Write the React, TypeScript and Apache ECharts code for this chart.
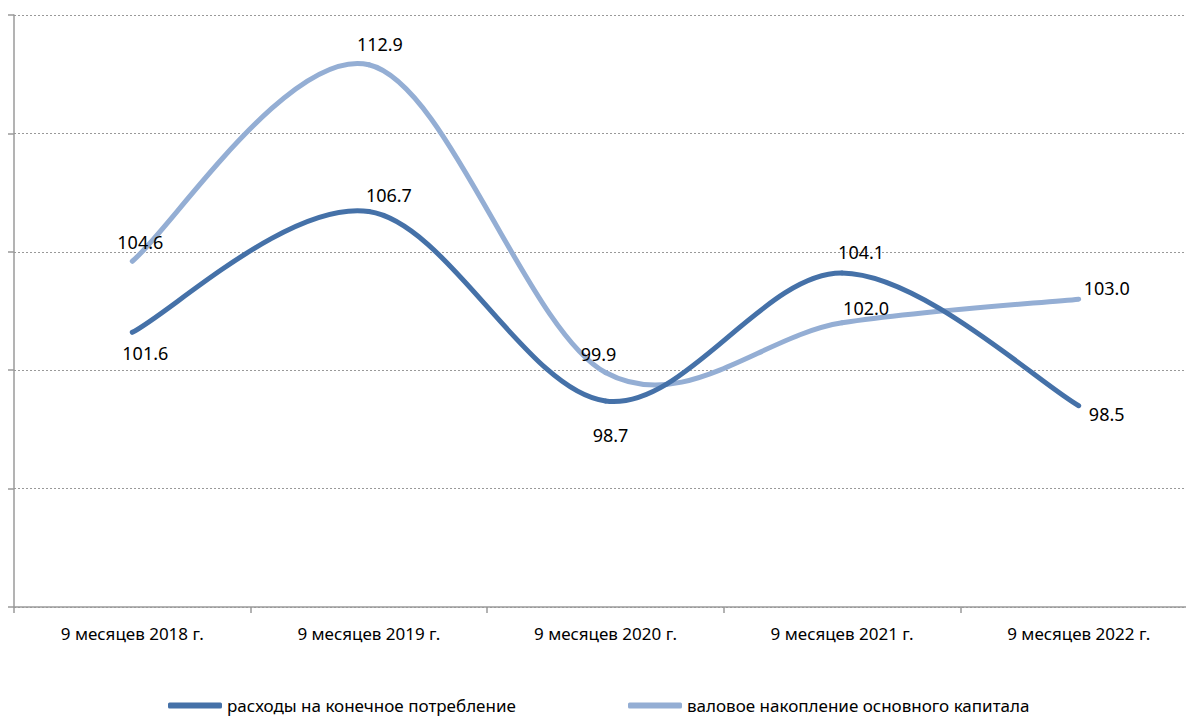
import React, { useEffect, useRef } from "react";
import * as echarts from "echarts";

const categories = [
  "9 месяцев 2018 г.",
  "9 месяцев 2019 г.",
  "9 месяцев 2020 г.",
  "9 месяцев 2021 г.",
  "9 месяцев 2022 г.",
];
const seriesNames = ["расходы на конечное потребление", "валовое накопление основного капитала"];
const consumption = [101.6, 106.7, 98.7, 104.1, 98.5];
const investment = [104.6, 112.9, 99.9, 102.0, 103.0];
// label offsets (dx, dy) from each point
const consumptionOffsets = [[13, 21], [20, -17], [5, 34], [19, -21], [28, 8]];
const investmentOffsets = [[8, -19], [11, -21], [-7, -19], [24, -15], [28, -11]];

const FONT = "Noto Sans";
const DARK = "#4571A8";
const LIGHT = "#94AED4";

function makeRender(vals: number[], offs: number[][], color: string) {
  return (params: any, api: any) => {
    const i = params.dataIndex;
    const pts = vals.map((v, k) => api.coord([k, v]));
    const n = pts.length;
    const children: any[] = [];
    if (i < n - 1) {
      const p0 = pts[Math.max(i - 1, 0)];
      const p1 = pts[i];
      const p2 = pts[i + 1];
      const p3 = pts[Math.min(i + 2, n - 1)];
      const c1 = [p1[0] + (p2[0] - p0[0]) / 6, p1[1] + (p2[1] - p0[1]) / 6];
      const c2 = [p2[0] - (p3[0] - p1[0]) / 6, p2[1] - (p3[1] - p1[1]) / 6];
      children.push({
        type: "path",
        shape: {
          pathData: `M${p1[0]},${p1[1]} C${c1[0]},${c1[1]} ${c2[0]},${c2[1]} ${p2[0]},${p2[1]}`,
        },
        style: { fill: "none", stroke: color, lineWidth: 5, lineCap: "round" },
      });
    }
    const p = pts[i];
    children.push({
      type: "text",
      x: p[0] + offs[i][0],
      y: p[1] + offs[i][1],
      z2: 10,
      style: {
        text: vals[i].toFixed(1),
        fill: "#000",
        fontSize: 18,
        fontFamily: FONT,
        align: "center",
        verticalAlign: "middle",
      },
    });
    return { type: "group", children };
  };
}

export default function App() {
  const ref = useRef<HTMLDivElement>(null);
  useEffect(() => {
    const chart = echarts.init(ref.current!, null, { renderer: "svg" });
    const legendCommon = {
      top: 697,
      padding: 0,
      icon: "roundRect",
      itemWidth: 54,
      itemHeight: 6,
      itemGap: 0,
      textStyle: { fontSize: 17, color: "#000", fontFamily: FONT },
    };
    chart.setOption({
      animation: false,
      textStyle: { fontFamily: FONT },
      grid: { left: 14, right: 3, top: 15, bottom: 109, containLabel: false },
      legend: [
        { ...legendCommon, data: [seriesNames[0]], left: 168 },
        { ...legendCommon, data: [seriesNames[1]], left: 628 },
      ],
      xAxis: {
        type: "category",
        data: categories,
        boundaryGap: true,
        axisLine: { show: true, lineStyle: { color: "#9a9a9a", width: 1.5 } },
        axisTick: { show: true, length: 6, lineStyle: { color: "#9a9a9a", width: 1.5 } },
        axisLabel: { color: "#000", fontSize: 17, fontFamily: FONT, margin: 18 },
      },
      yAxis: {
        type: "value",
        min: 90,
        max: 115,
        interval: 5,
        axisLine: { show: true, lineStyle: { color: "#9a9a9a", width: 1.5 } },
        axisTick: { show: true, inside: false, length: 6, lineStyle: { color: "#9a9a9a", width: 1.5 } },
        axisLabel: { show: false },
        splitLine: { show: true, lineStyle: { color: "#999", width: 1, type: [2, 2] } },
      },
      series: [
        {
          name: seriesNames[1],
          type: "custom",
          renderItem: makeRender(investment, investmentOffsets, LIGHT),
          data: investment.map((v, k) => [k, v]),
          encode: { x: 0, y: 1 },
          itemStyle: { color: LIGHT },
          clip: false,
          z: 2,
        },
        {
          name: seriesNames[0],
          type: "custom",
          renderItem: makeRender(consumption, consumptionOffsets, DARK),
          data: consumption.map((v, k) => [k, v]),
          encode: { x: 0, y: 1 },
          itemStyle: { color: DARK },
          clip: false,
          z: 3,
        },
      ],
    });
    return () => chart.dispose();
  }, []);
  return (
    <div style={{ position: "fixed", left: 0, top: 0, width: 1186, height: 716, overflow: "hidden", background: "#fff" }}>
      <div ref={ref} style={{ width: 1200, height: 716 }} />
    </div>
  );
}
